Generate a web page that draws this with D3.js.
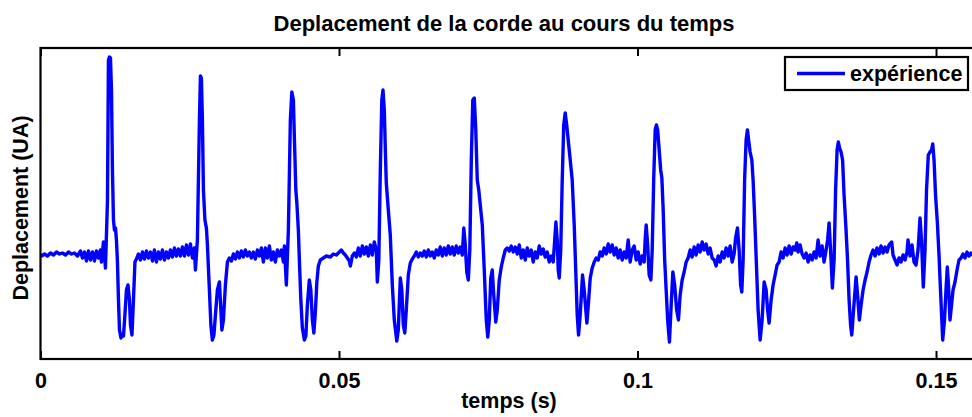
<!DOCTYPE html>
<html>
<head>
<meta charset="utf-8">
<script src="https://cdn.jsdelivr.net/npm/d3@7"></script>
<style>
  html, body { margin: 0; padding: 0; background: #fff; }
  svg { display: block; }
  text { font-family: "Liberation Sans", Arial, sans-serif; font-weight: bold; fill: #000; }
</style>
</head>
<body>
<svg id="chart" width="972" height="417"></svg>
<script>
// Mesure : temps (ms) et déplacement de la corde (unités arbitraires)
const temps_ms = [
  0.17,0.67,1.17,1.67,2.18,2.68,3.18,3.68,4.19,4.69,5.19,5.69,6.19,6.70,7.03,7.37,7.70,8.04,8.37,8.71,
  9.04,9.37,9.71,10.04,10.21,10.55,10.88,11.22,11.38,11.55,11.72,11.89,12.05,12.22,12.39,12.56,12.72,12.89,13.06,13.23,
  13.48,13.73,13.90,14.06,14.40,14.65,14.90,15.07,15.32,15.57,15.82,16.07,16.41,16.74,17.08,17.41,17.75,18.08,18.42,18.75,
  19.08,19.42,19.75,20.09,20.42,20.76,21.09,21.43,21.76,22.10,22.43,22.77,23.10,23.44,23.77,24.11,24.44,24.78,25.11,25.45,
  25.78,25.95,26.28,26.62,26.79,26.95,27.12,27.29,27.54,27.79,27.96,28.29,28.54,28.79,29.05,29.30,29.63,29.97,30.13,30.38,
  30.64,30.97,31.31,31.64,31.98,32.31,32.64,32.98,33.31,33.65,33.98,34.32,34.65,34.99,35.32,35.66,35.99,36.33,36.66,37.00,
  37.33,37.67,38.00,38.34,38.67,39.01,39.34,39.68,40.01,40.35,40.68,40.85,41.02,41.18,41.52,41.85,42.10,42.36,42.52,42.77,
  42.94,43.19,43.36,43.61,43.86,44.20,44.45,44.70,45.03,45.28,45.54,45.79,46.04,46.29,46.54,46.87,47.38,47.88,48.55,49.05,
  49.55,50.06,50.39,50.73,51.06,51.40,51.73,51.90,52.23,52.57,52.90,53.24,53.57,53.91,54.24,54.58,54.91,55.25,55.58,55.91,
  56.25,56.42,56.67,56.92,57.17,57.37,57.59,57.76,57.92,58.26,58.59,58.93,59.26,59.68,59.93,60.27,60.52,60.77,61.02,61.27,
  61.61,61.94,62.28,62.61,62.95,63.28,63.62,63.95,64.29,64.62,64.96,65.29,65.62,65.96,66.29,66.63,66.96,67.30,67.63,67.97,
  68.30,68.64,68.97,69.31,69.64,69.98,70.31,70.65,70.90,71.15,71.40,71.66,71.91,72.16,72.41,72.66,72.91,73.16,73.41,73.66,
  74.00,74.33,74.67,74.92,75.17,75.42,75.67,75.92,76.26,76.51,76.84,77.18,77.51,77.85,78.18,78.52,78.85,79.19,79.52,79.86,
  80.19,80.53,80.86,81.20,81.53,81.86,82.20,82.53,82.87,83.20,83.54,83.87,84.21,84.54,84.88,85.21,85.55,85.88,86.13,86.33,
  86.55,86.72,86.89,87.14,87.39,87.64,87.89,88.14,88.39,88.73,89.06,89.40,89.65,89.90,90.12,90.40,90.79,91.07,91.52,91.82,
  92.08,92.41,92.75,93.08,93.42,93.75,94.09,94.42,94.76,95.09,95.42,95.76,96.09,96.43,96.76,97.10,97.43,97.77,98.10,98.44,
  98.77,99.11,99.44,99.78,100.11,100.45,100.78,101.12,101.28,101.45,101.70,101.95,102.24,102.46,102.71,102.96,103.17,103.38,103.63,103.88,
  104.08,104.30,104.55,104.80,105.05,105.35,105.64,105.92,106.22,106.56,106.86,107.14,107.48,107.81,108.15,108.48,108.82,109.15,109.49,109.82,
  110.16,110.49,110.83,111.16,111.50,111.83,112.16,112.50,112.84,113.17,113.51,113.84,114.18,114.51,114.84,115.18,115.51,115.85,116.18,116.43,
  116.74,117.02,117.27,117.47,117.69,117.94,118.19,118.41,118.61,118.86,119.15,119.36,119.61,119.87,120.20,120.54,120.87,121.21,121.54,121.79,
  122.04,122.38,122.71,123.05,123.38,123.72,124.05,124.39,124.72,125.06,125.39,125.73,126.06,126.40,126.68,126.90,127.24,127.57,127.91,128.24,
  128.57,128.91,129.24,129.58,129.91,130.25,130.58,130.92,131.25,131.59,131.84,132.09,132.34,132.64,132.93,133.18,133.43,133.64,133.85,134.10,
  134.35,134.60,134.93,135.18,135.44,135.69,135.89,136.19,136.61,136.86,137.16,137.45,137.78,138.12,138.45,138.79,139.12,139.45,139.79,140.12,
  140.46,140.79,141.13,141.46,141.80,142.13,142.58,142.80,143.14,143.47,143.81,144.14,144.48,144.81,145.14,145.31,145.65,145.98,146.32,146.65,
  146.99,147.32,147.57,147.87,148.16,148.41,148.71,148.99,149.25,149.45,149.67,149.92,150.22,150.50,150.75,151.12,151.42,151.67,151.89,152.09,
  152.34,152.60,152.85,153.18,153.52,153.85,154.19,154.52,154.86,155.19,155.52,155.86,156.19
];

const deplacement = [
  0.00,0.02,0.00,0.03,0.01,0.04,0.02,0.03,0.01,0.04,0.02,0.03,0.00,0.05,-0.02,0.04,-0.05,0.05,-0.04,0.04,
  -0.05,0.05,-0.02,0.06,-0.06,0.14,-0.12,0.56,1.96,1.99,1.98,1.66,0.86,0.36,0.26,0.28,0.16,-0.06,-0.44,-0.74,
  -0.82,-0.78,-0.80,-0.66,-0.34,-0.29,-0.44,-0.69,-0.79,-0.44,-0.06,-0.03,0.02,-0.04,0.04,-0.03,0.05,-0.02,0.04,-0.05,
  0.06,-0.06,0.04,-0.03,0.06,-0.04,0.04,-0.02,0.06,-0.01,0.08,0.00,0.07,0.00,0.09,0.00,0.11,0.01,0.12,-0.02,
  0.08,-0.14,0.16,1.36,1.80,1.78,1.36,0.66,0.36,0.28,0.11,-0.34,-0.69,-0.84,-0.79,-0.59,-0.34,-0.26,-0.44,-0.74,
  -0.64,-0.29,-0.06,-0.02,-0.05,0.02,-0.03,0.04,-0.02,0.05,-0.01,0.06,0.00,0.04,-0.02,0.04,-0.03,0.06,0.00,0.08,
  -0.06,0.08,-0.02,0.10,-0.04,0.04,-0.06,0.06,0.00,0.06,-0.06,0.10,-0.10,-0.29,0.26,1.36,1.64,1.56,1.19,0.66,
  0.53,0.26,-0.04,-0.44,-0.72,-0.84,-0.80,-0.49,-0.24,-0.34,-0.64,-0.77,-0.56,-0.26,-0.10,-0.04,-0.02,0.00,-0.01,0.02,
  0.01,0.04,0.06,0.03,0.01,-0.02,-0.05,-0.10,0.00,0.03,-0.01,0.08,0.00,0.10,0.02,0.09,0.00,0.11,0.01,0.14,
  0.06,-0.26,-0.04,0.86,1.56,1.66,1.46,1.06,0.73,0.46,0.21,-0.29,-0.64,-0.85,-0.74,-0.22,-0.34,-0.69,-0.77,-0.54,
  -0.19,-0.07,-0.03,0.00,0.04,-0.01,0.03,0.00,0.05,-0.01,0.06,0.00,0.04,-0.02,0.06,0.01,0.09,0.00,0.08,0.01,
  0.10,0.02,0.09,0.01,0.10,0.03,0.09,0.01,0.28,0.11,-0.16,-0.24,0.06,0.96,1.56,1.58,1.26,0.76,0.66,0.51,
  0.31,-0.14,-0.64,-0.81,-0.64,-0.22,-0.14,-0.39,-0.66,-0.54,-0.24,-0.11,-0.02,0.06,0.08,0.05,0.10,0.04,0.09,0.02,
  0.11,-0.02,0.06,-0.04,0.08,0.00,0.06,-0.06,0.04,-0.02,0.10,0.02,0.07,-0.01,0.04,-0.06,0.00,-0.06,0.16,0.34,
  0.16,-0.14,-0.22,0.06,0.76,1.31,1.43,1.31,1.16,0.96,0.76,0.31,-0.14,-0.59,-0.79,-0.59,-0.19,-0.34,-0.67,-0.44,
  -0.22,-0.12,-0.06,-0.02,-0.04,0.04,0.00,0.08,0.02,0.12,0.04,0.11,0.01,0.08,-0.02,0.06,-0.04,0.04,-0.02,0.16,
  -0.06,0.06,0.10,-0.04,0.04,-0.08,0.00,-0.06,0.16,0.31,0.11,-0.19,-0.24,0.06,0.76,1.26,1.31,1.26,1.06,0.86,
  0.78,0.46,-0.04,-0.34,-0.64,-0.86,-0.49,-0.16,-0.29,-0.54,-0.64,-0.39,-0.24,-0.16,-0.06,-0.02,0.06,-0.01,0.09,0.01,
  0.11,0.04,0.14,0.06,0.12,0.02,0.08,-0.02,-0.04,-0.10,0.00,-0.06,0.04,-0.02,0.08,0.00,0.10,-0.06,0.02,0.18,
  0.28,0.06,-0.29,-0.36,-0.04,0.76,1.16,1.26,1.16,1.04,0.96,0.76,0.41,-0.01,-0.54,-0.84,-0.64,-0.26,-0.34,-0.54,
  -0.67,-0.44,-0.29,-0.19,-0.09,-0.06,0.04,-0.02,0.08,0.01,0.10,0.02,0.09,0.06,0.13,0.04,0.11,0.02,-0.02,0.03,
  -0.06,0.01,-0.04,0.04,-0.02,0.16,0.00,0.10,-0.06,0.06,0.16,0.33,0.06,-0.32,-0.04,0.66,1.06,1.14,1.08,1.04,
  0.96,0.61,0.26,-0.04,-0.44,-0.69,-0.79,-0.54,-0.21,-0.39,-0.64,-0.49,-0.34,-0.24,-0.16,-0.06,0.01,0.06,0.00,0.08,
  0.02,0.10,0.03,0.09,0.04,0.11,0.14,0.01,-0.04,-0.09,-0.02,-0.06,0.01,-0.04,0.04,0.16,0.00,0.11,-0.06,-0.09,
  0.06,0.38,0.16,-0.31,0.06,0.66,1.01,1.04,1.06,1.12,0.96,0.61,0.34,0.01,-0.34,-0.84,-0.64,-0.34,-0.11,-0.29,
  -0.64,-0.49,-0.34,-0.26,-0.14,-0.04,-0.02,0.02,-0.02,0.04,0.00,0.03,0.01
];

// Graduations de l'axe des temps (s)
const graduations_x = [0, 0.05, 0.1, 0.15];
const etiquettes_x = ["0", "0.05", "0.1", "0.15"];

const titre = "Deplacement de la corde au cours du temps";
const titre_x = "temps (s)";
const titre_y = "Deplacement (UA)";
const legende = ["expérience"];

const svg = d3.select("#chart");
const cadre = { gauche: 40.5, droite: 975, haut: 48, bas: 359 };

const x = d3.scaleLinear()
  .domain([0, 0.15653])
  .range([cadre.gauche, cadre.droite]);
const y = d3.scaleLinear()
  .domain([-1.03, 2.08])
  .range([cadre.bas, cadre.haut]);

const points = temps_ms.map((t, i) => ({ t: t / 1000, v: deplacement[i] }));

svg.append("defs").append("clipPath").attr("id", "zone")
  .append("rect")
  .attr("x", cadre.gauche).attr("y", cadre.haut)
  .attr("width", cadre.droite - cadre.gauche)
  .attr("height", cadre.bas - cadre.haut);

// Courbe mesurée
svg.append("path")
  .datum(points)
  .attr("clip-path", "url(#zone)")
  .attr("fill", "none")
  .attr("stroke", "#0000ff")
  .attr("stroke-width", 3.4)
  .attr("stroke-linejoin", "round")
  .attr("stroke-linecap", "round")
  .attr("d", d3.line().x(d => x(d.t)).y(d => y(d.v)));

// Axes : graduations vers l'intérieur, en bas et en haut
const axeBas = d3.axisBottom(x).tickValues(graduations_x)
  .tickFormat((d, i) => etiquettes_x[i]).tickSizeInner(-8).tickSizeOuter(0).tickPadding(14);
const gBas = svg.append("g").attr("transform", `translate(0,${cadre.bas})`).call(axeBas);
gBas.select(".domain").remove();
gBas.selectAll(".tick line").attr("stroke", "#000").attr("stroke-width", 2);
gBas.selectAll(".tick text")
  .attr("font-size", 21.5).attr("font-family", "Liberation Sans, Arial, sans-serif")
  .attr("font-weight", "bold").attr("fill", "#000");

const axeHaut = d3.axisTop(x).tickValues(graduations_x).tickFormat("")
  .tickSizeInner(-8).tickSizeOuter(0);
const gHaut = svg.append("g").attr("transform", `translate(0,${cadre.haut})`).call(axeHaut);
gHaut.select(".domain").remove();
gHaut.selectAll(".tick line").attr("stroke", "#000").attr("stroke-width", 2);

// Cadre du graphique
svg.append("rect")
  .attr("x", cadre.gauche).attr("y", cadre.haut)
  .attr("width", cadre.droite - cadre.gauche)
  .attr("height", cadre.bas - cadre.haut)
  .attr("fill", "none").attr("stroke", "#000").attr("stroke-width", 2.2);

// Titres
svg.append("text").attr("x", 504).attr("y", 31)
  .attr("text-anchor", "middle").attr("font-size", 22).text(titre);
svg.append("text").attr("x", 509).attr("y", 408)
  .attr("text-anchor", "middle").attr("font-size", 21.5).text(titre_x);
svg.append("text")
  .attr("transform", "translate(28,208) rotate(-90)")
  .attr("text-anchor", "middle").attr("font-size", 21.5).text(titre_y);

// Légende
const leg = svg.append("g");
leg.append("rect").attr("x", 785).attr("y", 57).attr("width", 183).attr("height", 33)
  .attr("fill", "#fff").attr("stroke", "#000").attr("stroke-width", 2.2);
leg.append("line").attr("x1", 797).attr("x2", 845).attr("y1", 73.5).attr("y2", 73.5)
  .attr("stroke", "#0000ff").attr("stroke-width", 3.4);
leg.append("text").attr("x", 850).attr("y", 81).attr("font-size", 21.5).text(legende[0]);
</script>
</body>
</html>
